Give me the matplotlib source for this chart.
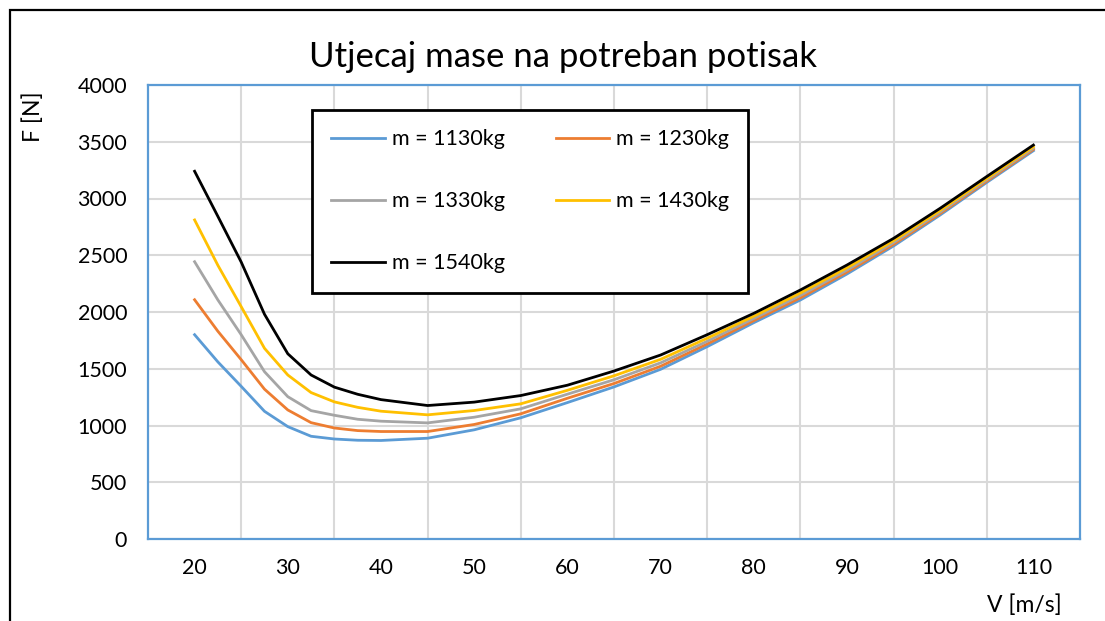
import matplotlib
matplotlib.use('Agg')
import matplotlib.pyplot as plt
from matplotlib.patches import Rectangle

plt.rcParams['font.family'] = ['Lato', 'DejaVu Sans']

# brzina [m/s]
v = [20, 22.5, 25, 27.5, 30, 32.5, 35, 37.5, 40, 45, 50, 55, 60, 65,
     70, 75, 80, 85, 90, 95, 100, 105, 110]

# potrebni potisak [N] za svaku masu
f_1130 = [1800, 1560, 1345, 1125, 990, 905, 881, 870, 868, 888, 962, 1068, 1202, 1340,
          1495, 1695, 1906, 2106, 2335, 2582, 2855, 3142, 3421]
f_1230 = [2108, 1830, 1580, 1320, 1137, 1025, 978, 955, 947, 947, 1009, 1103, 1240, 1370,
          1522, 1718, 1924, 2125, 2352, 2596, 2868, 3153, 3432]
f_1330 = [2443, 2106, 1800, 1474, 1254, 1131, 1090, 1055, 1038, 1023, 1073, 1147, 1276, 1403,
          1552, 1742, 1943, 2146, 2370, 2612, 2881, 3165, 3443]
f_1430 = [2811, 2411, 2047, 1680, 1445, 1290, 1208, 1160, 1126, 1094, 1132, 1191, 1310, 1438,
          1583, 1769, 1963, 2168, 2390, 2629, 2896, 3178, 3456]
f_1540 = [3240, 2842, 2440, 1980, 1632, 1445, 1338, 1275, 1228, 1176, 1206, 1264, 1355, 1480,
          1621, 1800, 1988, 2194, 2414, 2649, 2914, 3194, 3471]

labels = ['m = 1130kg', 'm = 1230kg', 'm = 1330kg', 'm = 1430kg', 'm = 1540kg']
colors = ['#5B9BD5', '#ED7D31', '#A5A5A5', '#FFC000', '#000000']
series = [f_1130, f_1230, f_1330, f_1430, f_1540]

x_ticks = [20, 30, 40, 50, 60, 70, 80, 90, 100, 110]
y_ticks = [0, 500, 1000, 1500, 2000, 2500, 3000, 3500, 4000]

fig = plt.figure(figsize=(11.05, 6.21), dpi=100)
ax = fig.add_axes([148/1105, 1-539/621, 932/1105, 454/621])

lines = []
for f, lab, c in zip(series, labels, colors):
    ln, = ax.plot(v, f, color=c, lw=2.0, label=lab, solid_joinstyle='round', zorder=3)
    lines.append(ln)

ax.set_xlim(15, 115)
ax.set_ylim(0, 4000)
ax.set_xticks(x_ticks)
ax.set_xticks([25, 35, 45, 55, 65, 75, 85, 95, 105], minor=True)
ax.set_yticks(y_ticks)
ax.tick_params(axis='both', which='both', length=0, labelsize=15.5)
ax.tick_params(axis='y', pad=15)
ax.tick_params(axis='x', pad=14)
ax.grid(True, which='minor', axis='x', color='#D9D9D9', lw=1.5)
ax.grid(True, which='major', axis='y', color='#D9D9D9', lw=1.5)
ax.set_axisbelow(True)
for s in ax.spines.values():
    s.set_color('#5B9BD5')
    s.set_linewidth(1.6)

# redoslijed po recima kao u Excelu
order = [0, 2, 4, 1, 3]
leg = ax.legend([lines[i] for i in order], [labels[i] for i in order],
                loc='upper left', bbox_to_anchor=(0.176, 0.945, 0.468, 0.0),
                mode='expand', ncol=2, fontsize=15.5, frameon=True, fancybox=False,
                framealpha=1, edgecolor='black', handlelength=2.5, handletextpad=0.3,
                labelspacing=1.95, borderpad=0.9, borderaxespad=0)
leg.get_frame().set_linewidth(2)

fig.text(563/1105, 1-57/621, 'Utjecaj mase na potreban potisak', ha='center', va='center', fontsize=25)
fig.text(33/1105, 1-117/621, 'F [N]', rotation=90, ha='center', va='center', fontsize=16.5)
fig.text(1062/1105, 1-605/621, 'V [m/s]', ha='right', va='center', fontsize=16.5)

fig.patches.append(Rectangle((10/1105, -0.05), 1.1, 1-10/621+0.05, transform=fig.transFigure,
                             fill=False, edgecolor='black', lw=1.6))

fig.savefig('out.png', dpi=100)
